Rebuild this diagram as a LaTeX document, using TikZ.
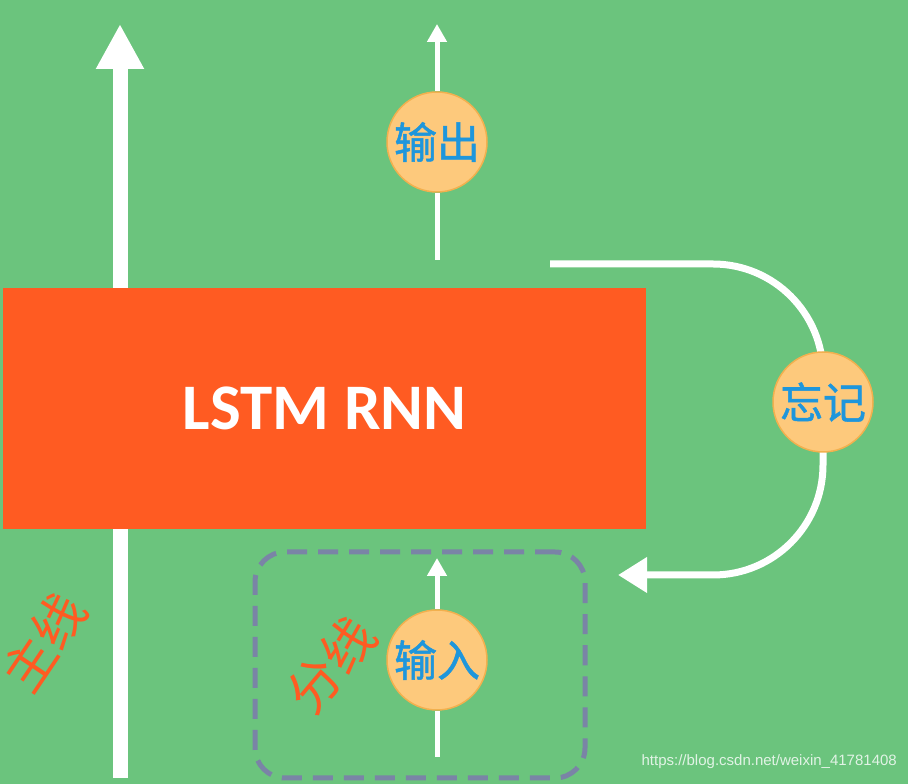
\documentclass[tikz,border=0pt]{standalone}
\usepackage{fontspec}
\usepackage{tikz}
\usetikzlibrary{arrows.meta}
\setmainfont{Carlito}
\newfontfamily\cjk{Noto Sans CJK SC}
\newfontfamily\cjkgate[FakeBold=1.2]{Noto Sans CJK SC}
\newfontfamily\urlfont{Liberation Sans}
\definecolor{Board}{HTML}{6BC47D}
\definecolor{Cell}{HTML}{FF5B22}
\definecolor{Gate}{HTML}{FDC97C}
\definecolor{GateRim}{HTML}{F2B04E}
\definecolor{GateText}{HTML}{1E96DC}
\definecolor{Frame}{HTML}{7A84A6}
\pgfdeclarelayer{board}
\pgfdeclarelayer{wires}
\pgfsetlayers{board,wires,main}
\tikzset{
	cell/.style={fill=Cell,minimum width=643pt,minimum height=241pt,inner sep=0pt,text=white,font=\bfseries\fontsize{65}{65}\selectfont},
	gate/.style={circle,fill=Gate,draw=GateRim,line width=1.5pt,minimum size=100pt,inner sep=0pt,text=GateText,font=\cjkgate\fontsize{43}{43}\selectfont},
	handwrite/.style={text=Cell,inner sep=0pt,font=\cjk\fontsize{52}{52}\selectfont},
	mainwire/.style={white,line width=15pt,-{Triangle[width=45pt,length=45pt]}},
	wire/.style={white,line width=5pt,-{Triangle[width=19pt,length=18pt]}},
	loopwire/.style={white,line width=7pt,-{Triangle[width=34pt,length=29pt]}},
	frame/.style={draw=Frame,line width=5pt,dash pattern=on 20pt off 11pt,rounded corners=30pt,minimum width=330pt,minimum height=226pt}
}

\begin{document}
\begin{tikzpicture}[x=1pt,y=1pt]
\useasboundingbox (0,0) rectangle (908,784);
% Board
\begin{pgfonlayer}{board}
\fill [Board] (0,0) rectangle (908,784);
\end{pgfonlayer}
% Cell
\node [cell] (lstm) at (324.5,375.5) {LSTM RNN};
% Gates
\node [gate] (out) at (437,642) {输出};
\node [gate] (forget) at (823,382) {忘记};
\node [gate] (in) at (437,124) {输入};
% Branch frame
\node [frame] (branch) at (420,119) {};
% Labels
\node [handwrite,rotate=56] (mainlbl) at (44,142) {主线};
\node [handwrite,rotate=50] (branchlbl) at (331,119) {分线};
\node [anchor=east,inner sep=0pt,text=white!80!Board,font=\urlfont\fontsize{15}{15}\selectfont] (mark) at (897,22) {https://blog.csdn.net/weixin\_41781408};
% Wire ends
\coordinate (mainbot) at (120,6);
\coordinate (maintop) at (120,760);
\coordinate (outbot) at (437,524);
\coordinate (outtop) at (437,760);
\coordinate (inbot) at (437,27);
\coordinate (intop) at (437,226);
\coordinate (fstart) at (550,520);
\coordinate (fend) at (618,209);
% Wires
\begin{pgfonlayer}{wires}
\draw [mainwire] (mainbot) -- (maintop);
\draw [wire] (outbot) -- (out) -- (outtop);
\draw [wire] (inbot) -- (in) -- (intop);
\draw [loopwire] (fstart) -- ++(163,0) arc [start angle=90,end angle=0,radius=110] -- ++(0,-91) arc [start angle=0,end angle=-90,radius=110] -- (fend);
\end{pgfonlayer}
\end{tikzpicture}
\end{document}
